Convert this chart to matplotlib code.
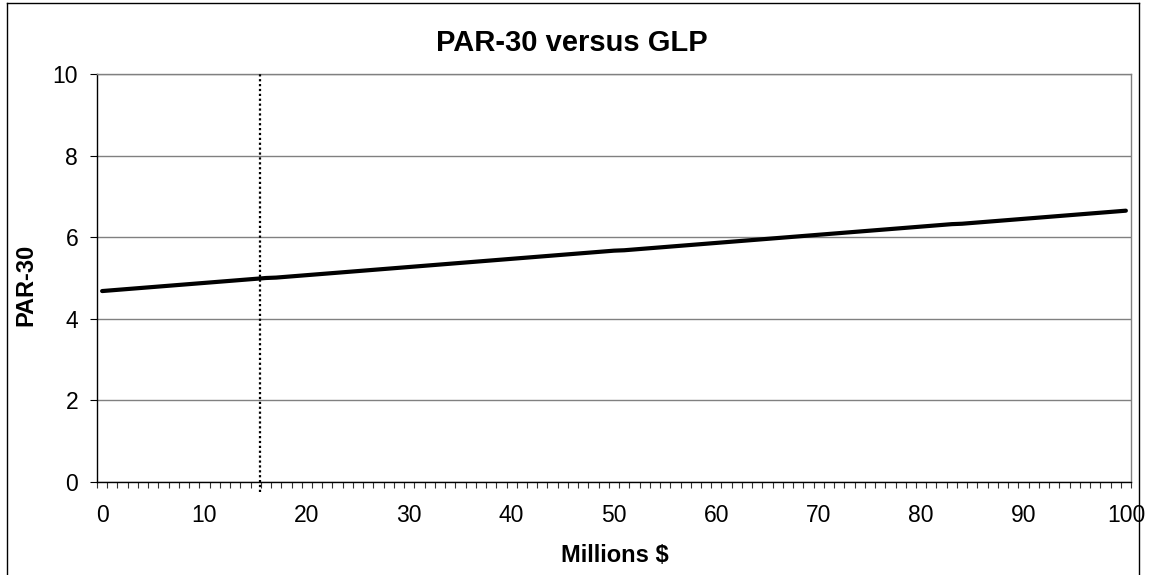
import matplotlib
matplotlib.use("Agg")
import matplotlib.pyplot as plt
from matplotlib.lines import Line2D
from matplotlib.ticker import FixedLocator

plt.rcParams['font.family'] = ['Liberation Sans', 'DejaVu Sans']

# ---- data ----
glp_millions = list(range(0, 101))
par30 = [
    4.68, 4.70, 4.72, 4.74, 4.76, 4.78, 4.80, 4.82, 4.84, 4.86,
    4.88, 4.90, 4.92, 4.94, 4.96, 4.98, 5.00, 5.01, 5.03, 5.05,
    5.07, 5.09, 5.11, 5.13, 5.15, 5.17, 5.19, 5.21, 5.23, 5.25,
    5.27, 5.29, 5.31, 5.33, 5.35, 5.37, 5.39, 5.41, 5.43, 5.45,
    5.47, 5.49, 5.51, 5.53, 5.55, 5.57, 5.59, 5.61, 5.63, 5.65,
    5.67, 5.68, 5.70, 5.72, 5.74, 5.76, 5.78, 5.80, 5.82, 5.84,
    5.86, 5.88, 5.90, 5.92, 5.94, 5.96, 5.98, 6.00, 6.02, 6.04,
    6.06, 6.08, 6.10, 6.12, 6.14, 6.16, 6.18, 6.20, 6.22, 6.24,
    6.26, 6.28, 6.30, 6.32, 6.33, 6.35, 6.37, 6.39, 6.41, 6.43,
    6.45, 6.47, 6.49, 6.51, 6.53, 6.55, 6.57, 6.59, 6.61, 6.63,
    6.65,
]
current_glp = 15.4
x_tick_labels = [str(v) for v in range(0, 101, 10)]
y_ticks = [0, 2, 4, 6, 8, 10]
title = "PAR-30 versus GLP"
x_label = "Millions $"
y_label = "PAR-30"

# ---- figure ----
W, H = 1151, 575
fig = plt.figure(figsize=(W / 100, H / 100), dpi=100)
fig.patch.set_facecolor('white')

L, R, T, B = 97, 1131, 74, 482
ax = fig.add_axes([L / W, 1 - B / H, (R - L) / W, (B - T) / H])

ax.set_xlim(-0.5, 100.5)
ax.set_ylim(0, 10)

# gridlines
ax.set_yticks(y_ticks)
ax.yaxis.grid(True, color='#808080', linewidth=1.0)
ax.set_axisbelow(True)

ax.plot(glp_millions, par30, color='black', linewidth=3.0,
        solid_joinstyle='round', solid_capstyle='round', zorder=3)

ax.plot([current_glp, current_glp], [-0.25, 10], color='black',
        linewidth=1.6, linestyle=(0, (1.0, 1.2)), clip_on=False, zorder=4)

# spines
for s in ['top', 'right']:
    ax.spines[s].set_color('#808080')
    ax.spines[s].set_linewidth(1.0)
for s in ['left', 'bottom']:
    ax.spines[s].set_color('black')
    ax.spines[s].set_linewidth(1.0)

# x ticks
ax.set_xticks(list(range(0, 101, 10)))
ax.set_xticklabels(x_tick_labels)
ax.xaxis.set_minor_locator(FixedLocator([i - 0.5 for i in range(0, 102)]))
ax.tick_params(axis='x', which='major', length=0, pad=16, labelsize=16.5)
ax.tick_params(axis='x', which='minor', length=4.5, width=0.8,
               direction='out', color='#333333')
ax.tick_params(axis='y', which='major', length=5, width=0.8,
               direction='out', pad=8.5, labelsize=16.5)

# texts
fig.text(572 / W, 1 - 43 / H, title, ha='center', va='center',
         fontsize=21, fontweight='bold')
fig.text(615 / W, 1 - 555 / H, x_label, ha='center', va='center',
         fontsize=17, fontweight='bold')
fig.text(26 / W, 1 - 285 / H, y_label, ha='center', va='center',
         rotation=90, fontsize=17, fontweight='bold')

# outer chart frame
fl, fr, ft = 7 / W, 1139 / W, 1 - 3 / H
fig.add_artist(Line2D([fl, fl], [0, ft], color='black', linewidth=1.0,
                      transform=fig.transFigure))
fig.add_artist(Line2D([fr, fr], [0, ft], color='black', linewidth=1.0,
                      transform=fig.transFigure))
fig.add_artist(Line2D([fl, fr], [ft, ft], color='black', linewidth=1.0,
                      transform=fig.transFigure))

fig.savefig('out.png', dpi=100, facecolor='white')
